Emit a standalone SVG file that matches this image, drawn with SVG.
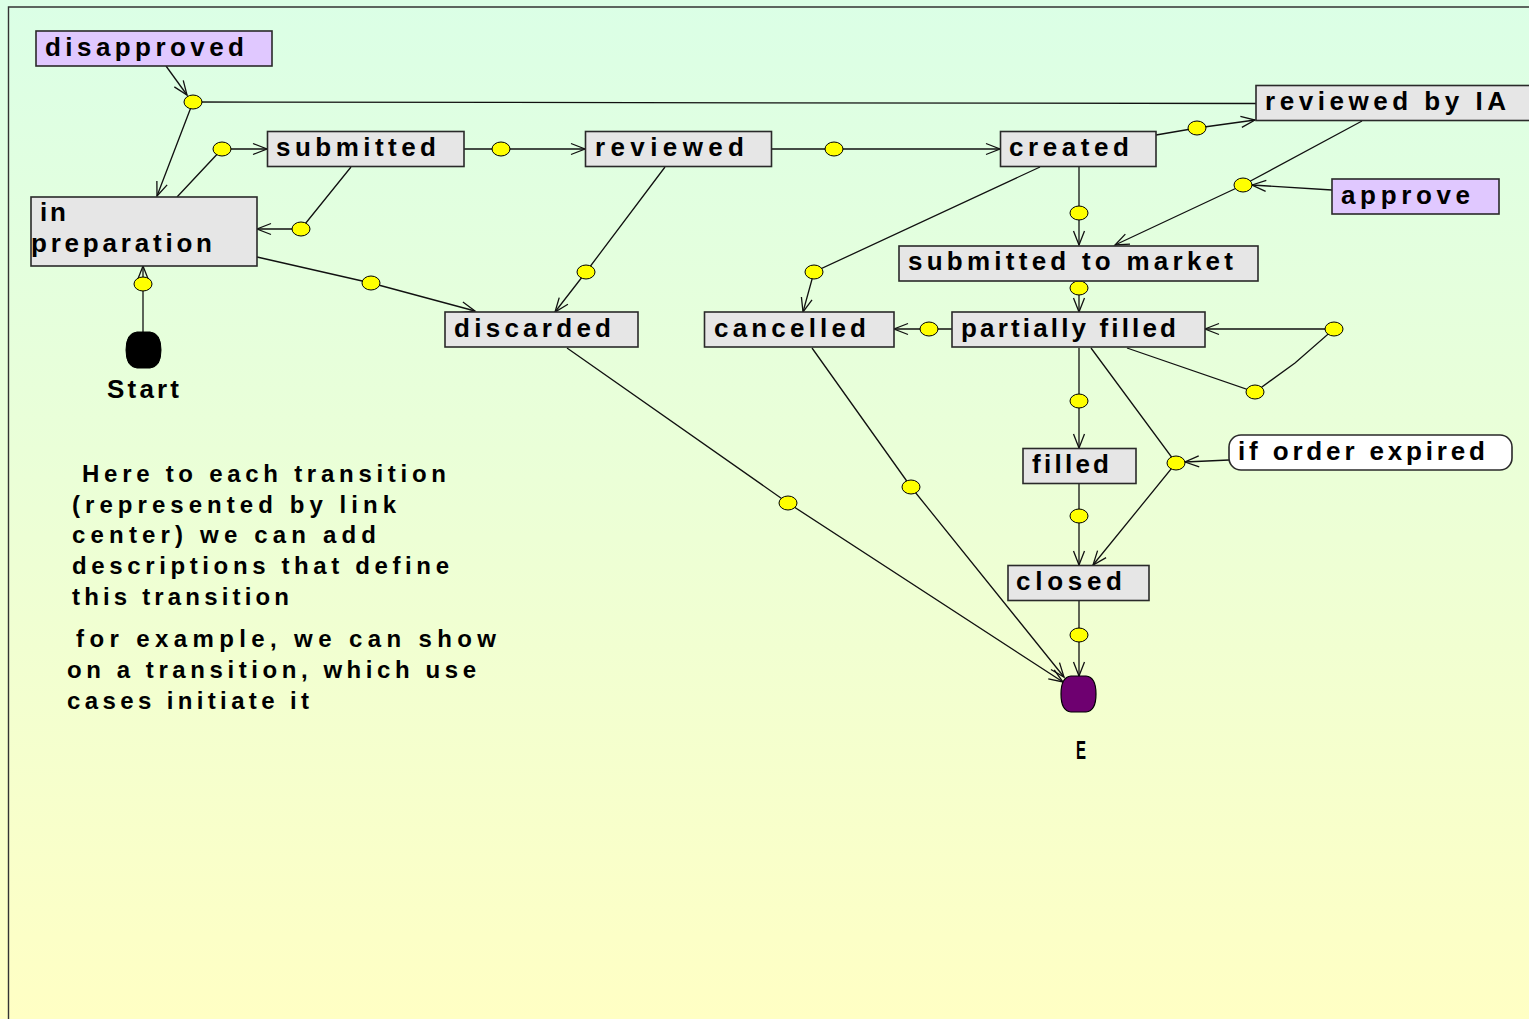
<svg xmlns="http://www.w3.org/2000/svg" width="1529" height="1019" viewBox="0 0 1529 1019">
  <defs>
    <linearGradient id="bg" x1="0" y1="0" x2="0" y2="1">
      <stop offset="0" stop-color="#dbffe6"/>
      <stop offset="0.5" stop-color="#ecffd6"/>
      <stop offset="1" stop-color="#ffffc4"/>
    </linearGradient>
    <marker id="arr" viewBox="0 0 15 12" refX="14" refY="6" markerWidth="15" markerHeight="12" markerUnits="userSpaceOnUse" orient="auto" overflow="visible">
      <path d="M0,0.5 L14,6 L0,11.5" fill="none" stroke="#111" stroke-width="1.3"/>
    </marker>
    <style>
      .node { fill: #e6e6e6; stroke: #2a2a2a; stroke-width: 1.6; }
      .event { fill: #e0c8ff; stroke: #2a2a2a; stroke-width: 1.6; }
      .cond { fill: #ffffff; stroke: #2a2a2a; stroke-width: 1.6; }
      .lbl { font-family: "Liberation Sans", Arial, sans-serif; font-weight: bold; font-size: 26px; fill: #000; }
      .note { font-family: "Liberation Sans", Arial, sans-serif; font-weight: bold; font-size: 24px; fill: #000; }
      .link { fill: none; stroke: #111; stroke-width: 1.3; marker-end: url(#arr); }
      .dot { fill: #ffff00; stroke: #000; stroke-width: 1; }
    </style>
  </defs>

  <!-- background and frame -->
  <rect x="0" y="0" width="1529" height="1019" fill="url(#bg)"/>
  <path d="M8.5,1019 V7 H1529" fill="none" stroke="#333" stroke-width="1.4"/>

  <!-- transitions -->
  <g id="connectors">
    <polyline class="link" points="166,66 187,95"/>
    <polyline class="link" points="1256,103.5 193,102 157,196"/>
    <polyline class="link" points="177,197 222,149 267,149"/>
    <polyline class="link" points="351,167 301,229 257,229"/>
    <polyline class="link" points="257,257 371,283 475,311"/>
    <polyline class="link" points="143,332 143,284 143,266"/>
    <polyline class="link" points="464,149 501,149 585,149"/>
    <polyline class="link" points="771,149 834,149 1000,149"/>
    <polyline class="link" points="665,167 586,272 555,312"/>
    <polyline class="link" points="1040,167 814,272 803,312"/>
    <polyline class="link" points="1156,135 1197,128 1255,120"/>
    <polyline class="link" points="1362,121 1243,185 1115,245"/>
    <polyline class="link" points="1332,190 1252,185"/>
    <polyline class="link" points="1079,167 1079,213 1079,245"/>
    <polyline class="link" points="1079,281 1079,288 1079,312"/>
    <polyline class="link" points="952,329 929,329 894,329"/>
    <polyline class="link" points="1127,348 1255,392 1295,363 1334,329 1205,329"/>
    <polyline class="link" points="1079,348 1079,401 1079,448"/>
    <polyline class="link" points="1091,348 1176,463 1093,565"/>
    <polyline class="link" points="1229,460 1185,462"/>
    <polyline class="link" points="1079,484 1079,516 1079,565"/>
    <polyline class="link" points="1079,601 1079,635 1079,676"/>
    <polyline class="link" points="567,348 788,503 1063,682"/>
    <polyline class="link" points="812,348 911,487 1064,677"/>

    <!-- link centres -->
    <ellipse class="dot" cx="193" cy="102" rx="9" ry="7"/>
    <ellipse class="dot" cx="222" cy="149" rx="9" ry="7"/>
    <ellipse class="dot" cx="301" cy="229" rx="9" ry="7"/>
    <ellipse class="dot" cx="371" cy="283" rx="9" ry="7"/>
    <ellipse class="dot" cx="143" cy="284" rx="9" ry="7"/>
    <ellipse class="dot" cx="501" cy="149" rx="9" ry="7"/>
    <ellipse class="dot" cx="834" cy="149" rx="9" ry="7"/>
    <ellipse class="dot" cx="586" cy="272" rx="9" ry="7"/>
    <ellipse class="dot" cx="814" cy="272" rx="9" ry="7"/>
    <ellipse class="dot" cx="1197" cy="128" rx="9" ry="7"/>
    <ellipse class="dot" cx="1243" cy="185" rx="9" ry="7"/>
    <ellipse class="dot" cx="1079" cy="213" rx="9" ry="7"/>
    <ellipse class="dot" cx="1079" cy="288" rx="9" ry="7"/>
    <ellipse class="dot" cx="929" cy="329" rx="9" ry="7"/>
    <ellipse class="dot" cx="1255" cy="392" rx="9" ry="7"/>
    <ellipse class="dot" cx="1334" cy="329" rx="9" ry="7"/>
    <ellipse class="dot" cx="1079" cy="401" rx="9" ry="7"/>
    <ellipse class="dot" cx="1176" cy="463" rx="9" ry="7"/>
    <ellipse class="dot" cx="1079" cy="516" rx="9" ry="7"/>
    <ellipse class="dot" cx="1079" cy="635" rx="9" ry="7"/>
    <ellipse class="dot" cx="788" cy="503" rx="9" ry="7"/>
    <ellipse class="dot" cx="911" cy="487" rx="9" ry="7"/>
  </g>

  <!-- states and events -->
  <g id="disapproved">
    <rect class="event" x="36" y="31" width="236" height="35"/>
    <text class="lbl" x="45" y="56" textLength="199" lengthAdjust="spacing">disapproved</text>
  </g>
  <g id="submitted">
    <rect class="node" x="267.5" y="131.5" width="196.5" height="35"/>
    <text class="lbl" x="276" y="156" textLength="160" lengthAdjust="spacing">submitted</text>
  </g>
  <g id="reviewed">
    <rect class="node" x="585.5" y="131.5" width="186" height="35"/>
    <text class="lbl" x="595" y="156" textLength="149" lengthAdjust="spacing">reviewed</text>
  </g>
  <g id="created">
    <rect class="node" x="1000.5" y="131.5" width="155.5" height="35"/>
    <text class="lbl" x="1009" y="156" textLength="120" lengthAdjust="spacing">created</text>
  </g>
  <g id="reviewed-by-ia">
    <rect class="node" x="1256" y="85.5" width="290" height="35"/>
    <text class="lbl" x="1265" y="110" textLength="241" lengthAdjust="spacing">reviewed by IA</text>
  </g>
  <g id="approve">
    <rect class="event" x="1332" y="179" width="167" height="35"/>
    <text class="lbl" x="1341" y="204" textLength="129" lengthAdjust="spacing">approve</text>
  </g>
  <g id="in-preparation">
    <rect class="node" x="31" y="197" width="226" height="69"/>
    <text class="lbl" x="40" y="221" textLength="26" lengthAdjust="spacing">in</text>
    <text class="lbl" x="31" y="252" textLength="181" lengthAdjust="spacing">preparation</text>
  </g>
  <g id="submitted-to-market">
    <rect class="node" x="899" y="246" width="359" height="35"/>
    <text class="lbl" x="908" y="270" textLength="325" lengthAdjust="spacing">submitted to market</text>
  </g>
  <g id="discarded">
    <rect class="node" x="445" y="312" width="193" height="35"/>
    <text class="lbl" x="454" y="337" textLength="157" lengthAdjust="spacing">discarded</text>
  </g>
  <g id="cancelled">
    <rect class="node" x="704.5" y="312" width="189.5" height="35"/>
    <text class="lbl" x="714" y="337" textLength="152" lengthAdjust="spacing">cancelled</text>
  </g>
  <g id="partially-filled">
    <rect class="node" x="952" y="312" width="253" height="35"/>
    <text class="lbl" x="961" y="337" textLength="215" lengthAdjust="spacing">partially filled</text>
  </g>
  <g id="filled">
    <rect class="node" x="1023" y="448.5" width="113" height="35"/>
    <text class="lbl" x="1032" y="473" textLength="77" lengthAdjust="spacing">filled</text>
  </g>
  <g id="closed">
    <rect class="node" x="1008" y="565.5" width="141" height="35"/>
    <text class="lbl" x="1016" y="590" textLength="106" lengthAdjust="spacing">closed</text>
  </g>
  <g id="if-order-expired">
    <rect class="cond" x="1229" y="435" width="283" height="35" rx="12" ry="12"/>
    <text class="lbl" x="1238" y="460" textLength="247" lengthAdjust="spacing">if order expired</text>
  </g>
  <g id="start">
    <path d="M137,332 H150 Q161,333 161,350 Q161,367 150,368 H137 Q126,367 126,350 Q126,333 137,332 Z" fill="#000" stroke="#000" stroke-width="1"/>
    <text class="lbl" x="107" y="398" font-size="25" textLength="72" lengthAdjust="spacing">Start</text>
  </g>
  <g id="end">
    <path d="M1071,676 H1086 Q1096,677 1096,694 Q1096,711 1086,712 H1071 Q1061,711 1061,694 Q1061,677 1071,676 Z" fill="#6e0070" stroke="#000" stroke-width="1.2"/>
    <text class="lbl" x="1076" y="759" font-size="23" textLength="10" lengthAdjust="spacingAndGlyphs">E</text>
  </g>

  <!-- explanatory note -->
  <g id="note">
    <text class="note" x="82" y="482" textLength="364" lengthAdjust="spacing">Here to each transition</text>
    <text class="note" x="72" y="513" textLength="324" lengthAdjust="spacing">(represented by link</text>
    <text class="note" x="72" y="543" textLength="304" lengthAdjust="spacing">center) we can add</text>
    <text class="note" x="72" y="574" textLength="377" lengthAdjust="spacing">descriptions that define</text>
    <text class="note" x="72" y="605" textLength="217" lengthAdjust="spacing">this transition</text>
    <text class="note" x="76" y="647" textLength="420" lengthAdjust="spacing">for example, we can show</text>
    <text class="note" x="67" y="678" textLength="409" lengthAdjust="spacing">on a transition, which use</text>
    <text class="note" x="67" y="709" textLength="242" lengthAdjust="spacing">cases initiate it</text>
  </g>
</svg>
